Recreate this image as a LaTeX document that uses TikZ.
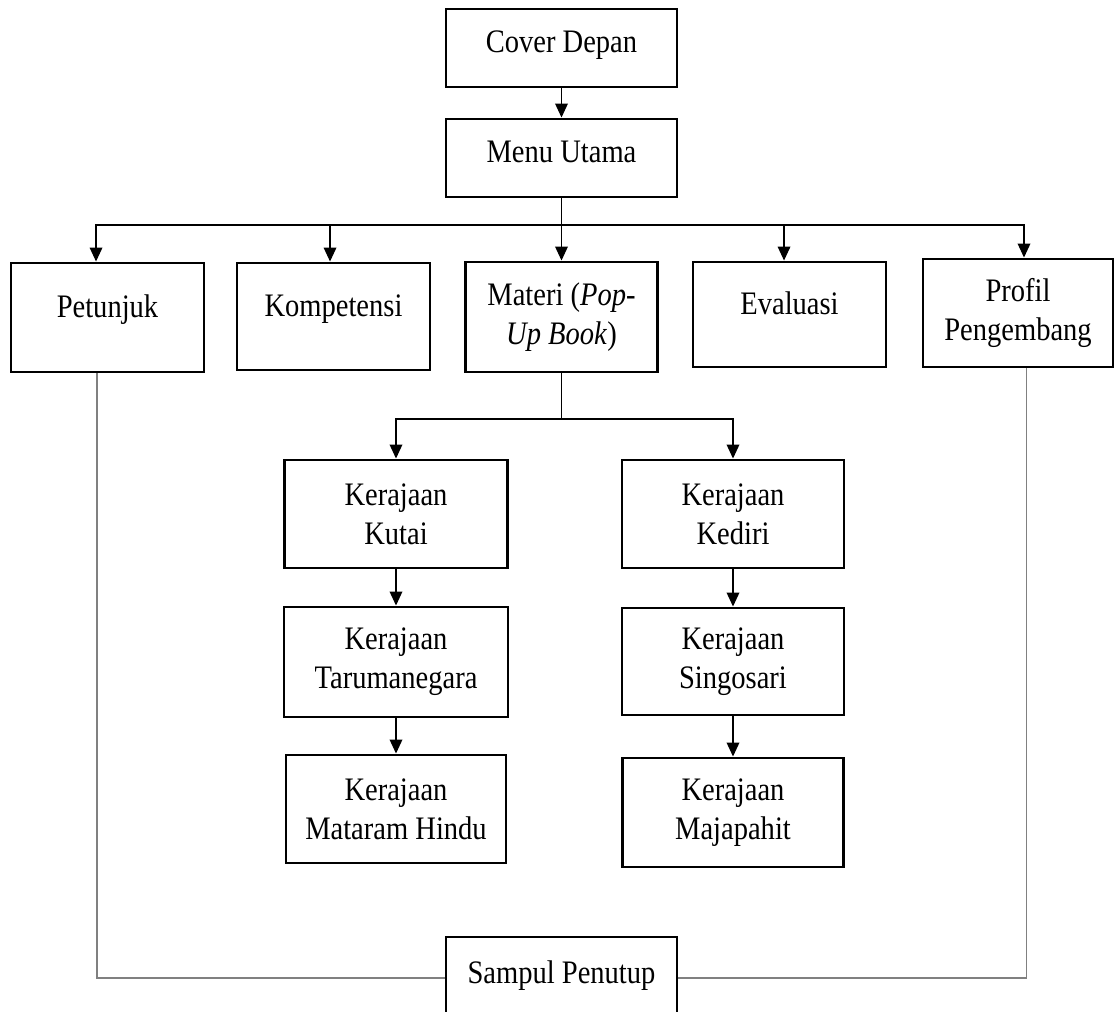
\documentclass[tikz,border=0pt]{standalone}
\usepackage{fontspec}
\setmainfont{Liberation Serif}[FakeStretch=0.87]
\usepackage{tikz}
\usetikzlibrary{arrows.meta,calc}

\begin{document}
\begin{tikzpicture}[x=0.75pt,y=-0.75pt,
	kotak/.style={draw,line width=2.2pt,align=center,inner sep=0pt,font=\fontsize{24.6}{29.3}\selectfont},
	pendek/.style={text height=17pt,text depth=9.5pt},
	tunggal/.style={text height=12pt,text depth=12pt},
	panah/.style={line width=1pt,-{Triangle[length=10.5pt,width=9.5pt]}},
	garis/.style={line width=1pt},
	abu/.style={draw=gray,line width=1.2pt}]
	\useasboundingbox (0,0) rectangle (1114,1012);
	\node[kotak,pendek,minimum width=173.25pt,minimum height=58.5pt] (cover) at (561.5,48) {Cover Depan};
	\node[kotak,pendek,minimum width=173.25pt,minimum height=58.5pt] (menu) at (561.5,158) {Menu Utama};
	\node[kotak,tunggal,minimum width=144.75pt,minimum height=81.75pt] (petunjuk) at (107.5,317.5) {Petunjuk};
	\node[kotak,tunggal,minimum width=144.75pt,minimum height=80.25pt] (kompetensi) at (333.5,316.5) {Kompetensi};
	\node[kotak,minimum width=144pt,minimum height=82.5pt] (materi) at (561.5,317) {Materi (\textit{Pop-}\\\textit{Up Book})};
	\node[kotak,tunggal,minimum width=144.75pt,minimum height=78.75pt] (evaluasi) at (789.5,314.5) {Evaluasi};
	\node[kotak,minimum width=142.5pt,minimum height=81pt] (profil) at (1018,313) {Profil\\Pengembang};
	\node[kotak,minimum width=167.25pt,minimum height=81pt] (kutai) at (396,514) {Kerajaan\\Kutai};
	\node[kotak,minimum width=168pt,minimum height=82.5pt] (taruma) at (396,662) {Kerajaan\\Tarumanegara};
	\node[kotak,minimum width=165pt,minimum height=81pt] (mataram) at (396,809) {Kerajaan\\Mataram Hindu};
	\node[kotak,minimum width=166.5pt,minimum height=81pt] (kediri) at (733,514) {Kerajaan\\Kediri};
	\node[kotak,minimum width=166.5pt,minimum height=80.25pt] (singosari) at (733,661.5) {Kerajaan\\Singosari};
	\node[kotak,minimum width=165.75pt,minimum height=81.75pt] (majapahit) at (733,812.5) {Kerajaan\\Majapahit};
	\node[kotak,pendek,minimum width=173.25pt,minimum height=61.5pt] (sampul) at (561.5,978) {Sampul Penutup};
	\coordinate (cabang) at (561.5,225);
	\coordinate (cabangmateri) at (561.5,419);
	\draw[panah] (cover) -- (menu);
	\draw[garis] (menu) -- (cabang);
	\draw[panah] (cabang) -| ([xshift=-8.6pt]petunjuk.north);
	\draw[panah] (cabang) -| ([xshift=-2.6pt]kompetensi.north);
	\draw[panah] (cabang) -- (materi);
	\draw[panah] (cabang) -| ([xshift=-4.1pt]evaluasi.north);
	\draw[panah] (cabang) -| ([xshift=4.5pt]profil.north);
	\draw[garis] (materi) -- (cabangmateri);
	\draw[panah] (cabangmateri) -| (kutai);
	\draw[panah] (cabangmateri) -| (kediri);
	\draw[panah] (kutai) -- (taruma);
	\draw[panah] (taruma) -- (mataram);
	\draw[panah] (kediri) -- (singosari);
	\draw[panah] (singosari) -- (majapahit);
	\draw[abu] ([xshift=-8.1pt]petunjuk.south) |- (sampul);
	\draw[abu] ([xshift=6.5pt]profil.south) |- (sampul);
\end{tikzpicture}
\end{document}
